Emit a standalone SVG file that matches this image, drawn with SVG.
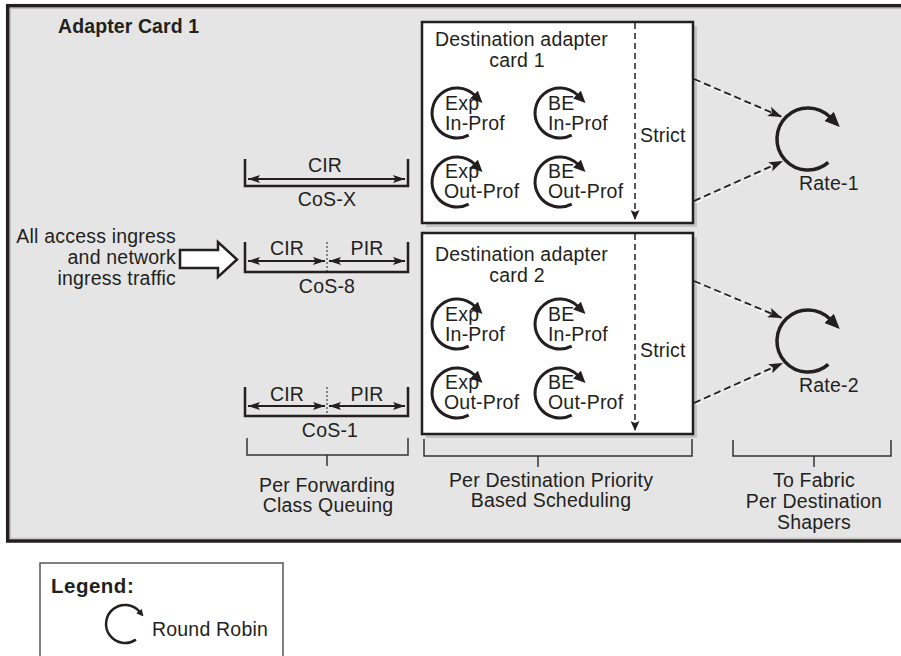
<svg xmlns="http://www.w3.org/2000/svg" width="901" height="656" viewBox="0 0 901 656">
<defs>
<style>
text{font-family:"Liberation Sans",Arial,Helvetica,sans-serif;font-size:19.5px;fill:#231f20;letter-spacing:0.2px}
.b{font-weight:bold;font-size:19.5px;letter-spacing:0.1px}
.lg{font-size:20.5px;letter-spacing:0.5px}
.m{text-anchor:middle}
.e{text-anchor:end}
.card{fill:#fff;stroke:#231f20;stroke-width:2.5}
.shadow{fill:#c4c4c4}
.rr{fill:none;stroke:#231f20;stroke-width:3;marker-end:url(#rrh)}
.rate{fill:none;stroke:#231f20;stroke-width:3.5;marker-end:url(#rth)}
.strict{stroke:#231f20;stroke-width:1.5;stroke-dasharray:6 4;marker-end:url(#sh)}
.halo{stroke:#fff;stroke-width:1.2;stroke-dasharray:7 4}
.dash{stroke:#231f20;stroke-width:1.8;stroke-dasharray:7 4;marker-end:url(#dh)}
.q{fill:none;stroke:#231f20;stroke-width:2.5}
.dr{stroke:#231f20;stroke-width:2;marker-start:url(#ah);marker-end:url(#ah)}
.dot{stroke:#231f20;stroke-width:1;stroke-dasharray:2 2}
.br{fill:none;stroke:#333;stroke-width:1.5}
</style>
<marker id="ah" viewBox="0 0 12 8" refX="12" refY="4" markerWidth="12" markerHeight="8" markerUnits="userSpaceOnUse" orient="auto-start-reverse"><path d="M0,0 L12,4 L0,8 L2.5,4 z" fill="#231f20"/></marker>
<marker id="sh" viewBox="0 0 10 9" refX="10" refY="4.5" markerWidth="10" markerHeight="9" markerUnits="userSpaceOnUse" orient="auto"><path d="M0,0 L10,4.5 L0,9 L2,4.5 z" fill="#231f20"/></marker>
<marker id="dh" viewBox="0 0 14 10" refX="14" refY="5" markerWidth="14" markerHeight="10" markerUnits="userSpaceOnUse" orient="auto"><path d="M0,0 L14,5 L0,10 L3,5 z" fill="#231f20"/></marker>
<marker id="rrh" viewBox="0 0 12 11" refX="1" refY="5.5" markerWidth="12" markerHeight="11" markerUnits="userSpaceOnUse" orient="auto"><path d="M0,0 L12,5.5 L0,11 z" fill="#231f20"/></marker>
<marker id="rth" viewBox="0 0 15 13" refX="1" refY="6.5" markerWidth="15" markerHeight="13" markerUnits="userSpaceOnUse" orient="auto"><path d="M0,0 L15,6.5 L0,13 z" fill="#231f20"/></marker>
<marker id="lgh" viewBox="0 0 7 7" refX="1" refY="3.5" markerWidth="7" markerHeight="7" markerUnits="userSpaceOnUse" orient="auto"><path d="M0,0 L7,3.5 L0,7 z" fill="#231f20"/></marker>
<path id="rrArc" class="rr" d="M11.7,22.1 A25,25 0 1 1 17.7,-17.7"/>
<path id="rateArc" class="rate" d="M20.3,23.4 A31,31 0 1 1 21.9,-21.9"/>
</defs>

<rect width="901" height="656" fill="#fff"/>

<g id="adapter-card-1">
<rect x="7.7" y="5.7" width="900" height="535.3" fill="#e5e5e5" stroke="#231f20" stroke-width="3.5"/>
<rect x="10.5" y="8.5" width="900" height="529.7" fill="none" stroke="#bdbdbd" stroke-width="1"/>
<text class="b" x="58" y="33">Adapter Card 1</text>
</g>

<g id="ingress">
<text class="e" x="176" y="243">All access ingress</text>
<text class="e" x="176" y="264">and network</text>
<text class="e" x="176" y="285">ingress traffic</text>
<polygon points="180,250 218,250 218,242 237,259.5 218,277 218,268 180,268" fill="#fff" stroke="#231f20" stroke-width="2.5" stroke-linejoin="miter"/>
</g>

<g id="cos-x">
<path class="q" d="M245,159 V186 H408 V159"/>
<line class="dr" x1="248" y1="179" x2="405" y2="179"/>
<text class="m" x="325" y="172">CIR</text>
<text class="m" x="327" y="206">CoS-X</text>
</g>

<g id="cos-8">
<path class="q" d="M245,242 V272 H408 V242"/>
<line class="dot" x1="327" y1="242" x2="327" y2="272"/>
<line class="dr" x1="248" y1="261" x2="325" y2="261"/>
<line class="dr" x1="329" y1="261" x2="405" y2="261"/>
<text class="m" x="287" y="255">CIR</text>
<text class="m" x="367" y="255">PIR</text>
<text class="m" x="327" y="293">CoS-8</text>
</g>

<g id="cos-1">
<path class="q" d="M245,387 V416 H408 V387"/>
<line class="dot" x1="327" y1="387" x2="327" y2="416"/>
<line class="dr" x1="248" y1="406" x2="325" y2="406"/>
<line class="dr" x1="329" y1="406" x2="405" y2="406"/>
<text class="m" x="287" y="401">CIR</text>
<text class="m" x="367" y="401">PIR</text>
<text class="m" x="330" y="437">CoS-1</text>
</g>

<g id="dest-card-1">
<rect class="shadow" x="426" y="26" width="271" height="201"/>
<rect class="card" x="422" y="22" width="271" height="201"/>
<text x="435" y="46">Destination adapter</text>
<text class="m" x="517" y="67">card 1</text>
<use href="#rrArc" x="457" y="113"/>
<use href="#rrArc" x="560" y="113"/>
<use href="#rrArc" x="457" y="182"/>
<use href="#rrArc" x="560" y="182"/>
<text x="445" y="110">Exp</text>
<text x="445" y="130">In-Prof</text>
<text x="548" y="110">BE</text>
<text x="548" y="130">In-Prof</text>
<text x="445" y="178">Exp</text>
<text x="444" y="198">Out-Prof</text>
<text x="548" y="178">BE</text>
<text x="548" y="198">Out-Prof</text>
<line class="strict" x1="635" y1="23" x2="635" y2="220"/>
<text x="640" y="142">Strict</text>
</g>

<g id="dest-card-2">
<rect class="shadow" x="426" y="237" width="271" height="201"/>
<rect class="card" x="422" y="233" width="271" height="201"/>
<text x="435" y="261">Destination adapter</text>
<text class="m" x="517" y="282">card 2</text>
<use href="#rrArc" x="457" y="324"/>
<use href="#rrArc" x="560" y="324"/>
<use href="#rrArc" x="457" y="393"/>
<use href="#rrArc" x="560" y="393"/>
<text x="445" y="321">Exp</text>
<text x="445" y="341">In-Prof</text>
<text x="548" y="321">BE</text>
<text x="548" y="341">In-Prof</text>
<text x="445" y="389">Exp</text>
<text x="444" y="409">Out-Prof</text>
<text x="548" y="389">BE</text>
<text x="548" y="409">Out-Prof</text>
<line class="strict" x1="635" y1="234" x2="635" y2="431"/>
<text x="640" y="357">Strict</text>
</g>

<g id="rate-1">
<use href="#rateArc" x="808" y="139"/>
<text x="799" y="190">Rate-1</text>
</g>

<g id="rate-2">
<use href="#rateArc" x="808" y="341"/>
<text x="799" y="392">Rate-2</text>
</g>

<g id="connectors">
<line class="halo" x1="696" y1="81.5" x2="770" y2="113.5"/>
<line class="dash" x1="694" y1="79" x2="782" y2="117"/>
<line class="halo" x1="696" y1="202.5" x2="771" y2="169"/>
<line class="dash" x1="694" y1="201" x2="783" y2="161"/>
<line class="halo" x1="696" y1="283.5" x2="770" y2="315"/>
<line class="dash" x1="694" y1="281" x2="782" y2="318"/>
<line class="halo" x1="696" y1="404.5" x2="771" y2="371"/>
<line class="dash" x1="694" y1="403" x2="783" y2="363"/>
</g>

<g id="label-queuing">
<path class="br" d="M247,438 V455 H408 V438 M327,455 V466"/>
<text class="m" x="327" y="492">Per Forwarding</text>
<text class="m" x="328" y="512">Class Queuing</text>
</g>

<g id="label-scheduling">
<path class="br" d="M424,439 V456 H692 V439 M538,456 V467"/>
<text class="m" x="551" y="487">Per Destination Priority</text>
<text class="m" x="551" y="507">Based Scheduling</text>
</g>

<g id="label-shapers">
<path class="br" d="M733,440 V456 H891 V440 M814,456 V467"/>
<text class="m" x="814" y="487">To Fabric</text>
<text class="m" x="814" y="508">Per Destination</text>
<text class="m" x="814" y="529">Shapers</text>
</g>

<g id="legend">
<rect x="40" y="563" width="243" height="100" fill="#fff" stroke="#555" stroke-width="1.5"/>
<text class="b lg" x="51" y="593">Legend:</text>
<path d="M135.9,639.6 A19,19 0 1 1 139.6,611.8" fill="none" stroke="#231f20" stroke-width="2.5" marker-end="url(#lgh)"/>
<text x="152" y="636">Round Robin</text>
</g>
</svg>
